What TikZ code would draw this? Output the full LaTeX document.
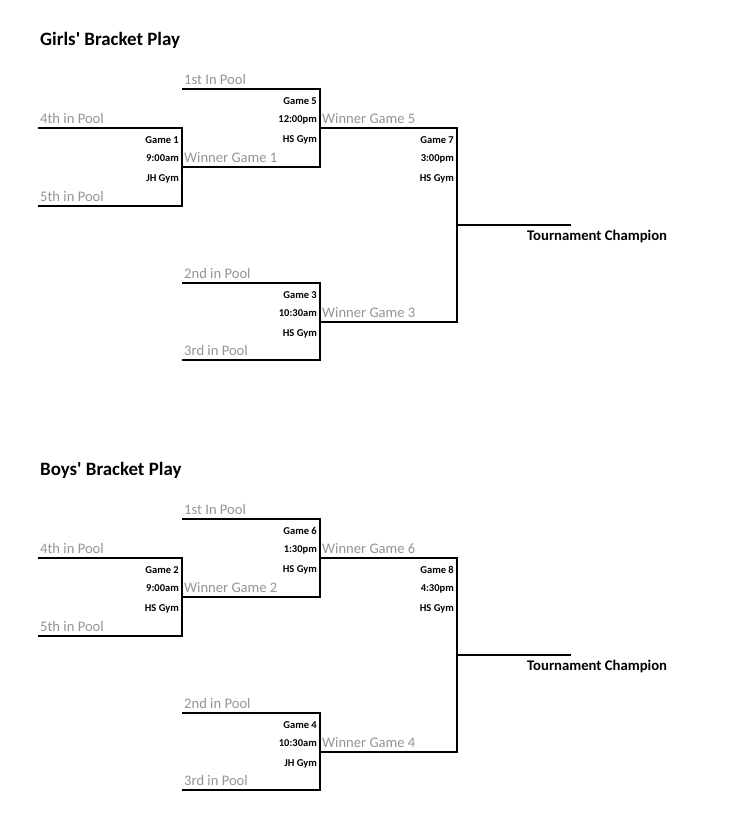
\documentclass[tikz,border=0pt]{standalone}
\usepackage{fontspec}
\setmainfont{Carlito}
\usetikzlibrary{positioning}

\tikzset{
  bline/.style={line width=2.7pt},
  pool/.style={text=black!42, font=\fontsize{14.6}{16}\selectfont, anchor=base west, inner sep=0pt},
  info/.style={font=\bfseries\fontsize{10.5}{12}\selectfont, anchor=east, inner sep=0pt},
  ttl/.style={font=\bfseries\fontsize{18.9}{22}\selectfont, anchor=west, inner sep=0pt},
  champ/.style={font=\bfseries\fontsize{14.7}{16}\selectfont, anchor=west, inner sep=0pt},
}

% game number, time and gym, right of the bracket's upright
\newcommand{\gameinfo}[6]{%
  \node[info] (#1g) at (#2-3,#3+12) {#4};
  \node[info] (#1t) at (#2-3,#3+30.5) {#5};
  \node[info] (#1h) at (#2-3,#3+50.5) {#6};
}

\begin{document}
\begin{tikzpicture}[x=1pt,y=-1pt]
    \useasboundingbox (0,0) rectangle (729,839);

    % girls
    \begin{scope}
    \node[ttl] (gtitle) at (40,40) {Girls\textquotesingle{} Bracket Play};
    \coordinate (g1a) at (38,128);  \coordinate (g1b) at (182,128);
    \coordinate (g1c) at (182,206); \coordinate (g1d) at (38,206);
    \coordinate (g5a) at (182,89);  \coordinate (g5b) at (320,89);
    \coordinate (g5c) at (320,167); \coordinate (g5d) at (182,167);
    \coordinate (g3a) at (182,283); \coordinate (g3b) at (320,283);
    \coordinate (g3c) at (320,360); \coordinate (g3d) at (182,360);
    \coordinate (g7a) at (320,128); \coordinate (g7b) at (457,128);
    \coordinate (g7c) at (457,322); \coordinate (g7d) at (320,322);
    \coordinate (gwin) at (457,225); \coordinate (gend) at (571,225);
    \draw[bline] (g1a) -- (g1b) -- (g1c) -- (g1d);
    \draw[bline] (g5a) -- (g5b) -- (g5c) -- (g5d);
    \draw[bline] (g3a) -- (g3b) -- (g3c) -- (g3d);
    \draw[bline] (g7a) -- (g7b) -- (g7c) -- (g7d);
    \draw[bline] (gwin) -- (gend);

    \node[pool] (gp4) at (40,123) {4th in Pool};
    \node[pool] (gp5) at (40,201) {5th in Pool};
    \node[pool] (gp1) at (184,84) {1st In Pool};
    \node[pool] (gw1) at (184,162) {Winner Game 1};
    \node[pool] (gp2) at (184,278) {2nd in Pool};
    \node[pool] (gp3) at (184,355) {3rd in Pool};
    \node[pool] (gw5) at (322,123) {Winner Game 5};
    \node[pool] (gw3) at (322,317) {Winner Game 3};

    \gameinfo{g1}{182}{128}{Game 1}{9:00am}{JH Gym}
    \gameinfo{g5}{320}{89}{Game 5}{12:00pm}{HS Gym}
    \gameinfo{g3}{320}{283}{Game 3}{10:30am}{HS Gym}
    \gameinfo{g7}{457}{128}{Game 7}{3:00pm}{HS Gym}
    \node[champ] (gchamp) at (527,236) {Tournament Champion};
    \end{scope}

    % boys
    \begin{scope}[shift={(0,430)}]
    \node[ttl] (btitle) at (40,40) {Boys\textquotesingle{} Bracket Play};
    \coordinate (b2a) at (38,128);  \coordinate (b2b) at (182,128);
    \coordinate (b2c) at (182,206); \coordinate (b2d) at (38,206);
    \coordinate (b6a) at (182,89);  \coordinate (b6b) at (320,89);
    \coordinate (b6c) at (320,167); \coordinate (b6d) at (182,167);
    \coordinate (b4a) at (182,283); \coordinate (b4b) at (320,283);
    \coordinate (b4c) at (320,360); \coordinate (b4d) at (182,360);
    \coordinate (b8a) at (320,128); \coordinate (b8b) at (457,128);
    \coordinate (b8c) at (457,322); \coordinate (b8d) at (320,322);
    \coordinate (bwin) at (457,225); \coordinate (bend) at (571,225);
    \draw[bline] (b2a) -- (b2b) -- (b2c) -- (b2d);
    \draw[bline] (b6a) -- (b6b) -- (b6c) -- (b6d);
    \draw[bline] (b4a) -- (b4b) -- (b4c) -- (b4d);
    \draw[bline] (b8a) -- (b8b) -- (b8c) -- (b8d);
    \draw[bline] (bwin) -- (bend);

    \node[pool] (bp4) at (40,123) {4th in Pool};
    \node[pool] (bp5) at (40,201) {5th in Pool};
    \node[pool] (bp1) at (184,84) {1st In Pool};
    \node[pool] (bw2) at (184,162) {Winner Game 2};
    \node[pool] (bp2) at (184,278) {2nd in Pool};
    \node[pool] (bp3) at (184,355) {3rd in Pool};
    \node[pool] (bw6) at (322,123) {Winner Game 6};
    \node[pool] (bw4) at (322,317) {Winner Game 4};

    \gameinfo{b2}{182}{128}{Game 2}{9:00am}{HS Gym}
    \gameinfo{b6}{320}{89}{Game 6}{1:30pm}{HS Gym}
    \gameinfo{b4}{320}{283}{Game 4}{10:30am}{JH Gym}
    \gameinfo{b8}{457}{128}{Game 8}{4:30pm}{HS Gym}
    \node[champ] (bchamp) at (527,236) {Tournament Champion};
    \end{scope}
\end{tikzpicture}
\end{document}
